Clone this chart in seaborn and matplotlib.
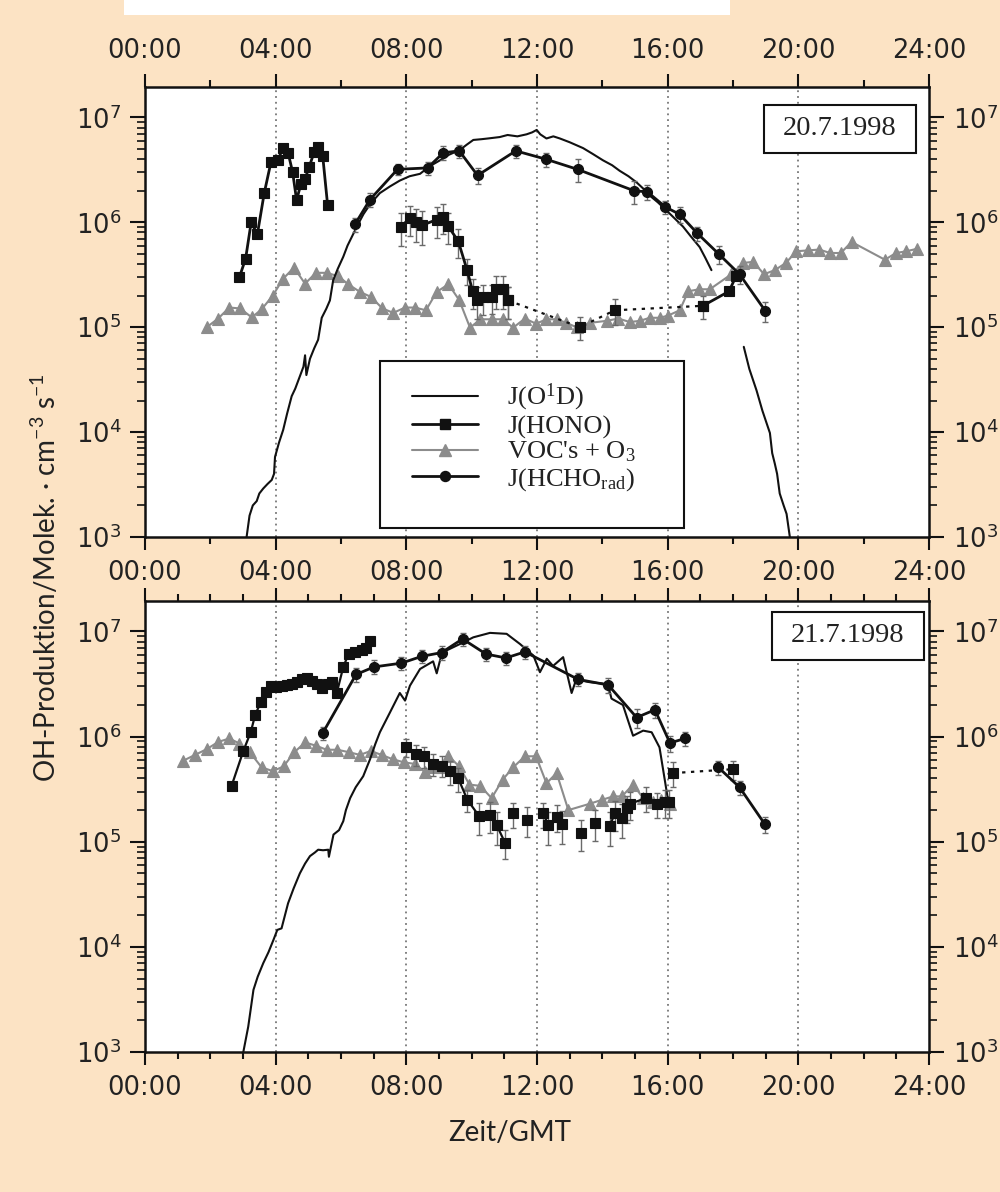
import numpy as np
import pandas as pd
import matplotlib
matplotlib.use("Agg")
import matplotlib.pyplot as plt
import seaborn as sns
from matplotlib.ticker import FixedLocator, LogLocator, NullFormatter, MultipleLocator, LogFormatterSciNotation
from matplotlib.patches import Rectangle
from matplotlib.lines import Line2D

# ---------------- data (hours GMT, OH production in molec cm^-3 s^-1) ----------------
hour_ticks = [0, 4, 8, 12, 16, 20, 24]
hour_labels = ["00:00", "04:00", "08:00", "12:00", "16:00", "20:00", "24:00"]
grid_hours = [4, 8, 12, 16, 20]
legend_labels = ["J(O$\\mathregular{^1}$D)", "J(HONO)", "VOC's + O$\\mathregular{_3}$", "J(HCHO$\\mathregular{_{rad}}$)"]
date_top = "20.7.1998"
date_bottom = "21.7.1998"

# --- 20.7.1998 ---
o1d_top_t_a = [3.11, 3.2, 3.3, 3.42, 3.5, 3.62, 3.75, 3.88, 3.95, 3.98, 4.1, 4.23, 4.35, 4.49, 4.6, 4.74,
               4.85, 4.90, 4.94, 5.05, 5.18, 5.30, 5.41, 5.55, 5.66, 5.76, 5.9, 6.07, 6.2, 6.38, 6.5, 6.69,
               6.9, 7.19, 7.5, 7.80, 8.1, 8.42, 8.7, 9.03, 9.3, 9.64, 9.85, 10.05, 10.3, 10.5, 10.86, 11.1,
               11.4, 11.68, 11.85, 11.99, 12.1, 12.29, 12.5, 12.70, 13.0, 13.41, 13.7, 14.02, 14.3, 14.53,
               14.8, 15.05, 15.25, 15.45, 15.7, 15.96, 16.2, 16.47, 16.7, 16.98, 17.15, 17.34]
o1d_top_v_a = [1.0e3, 1.6e3, 2.0e3, 2.2e3, 2.6e3, 2.9e3, 3.2e3, 3.5e3, 4.0e3, 5.8e3, 7.9e3, 1.05e4, 1.5e4,
               2.2e4, 2.6e4, 3.4e4, 4.2e4, 5.4e4, 3.5e4, 5.0e4, 6.3e4, 7.6e4, 1.23e5, 1.5e5, 1.8e5, 2.8e5,
               3.6e5, 4.7e5, 6.0e5, 7.8e5, 9.3e5, 1.2e6, 1.5e6, 1.9e6, 2.2e6, 2.5e6, 2.75e6, 2.9e6, 3.4e6,
               3.9e6, 4.4e6, 4.9e6, 5.5e6, 6.1e6, 6.2e6, 6.3e6, 6.5e6, 6.8e6, 6.6e6, 6.9e6, 7.2e6, 7.6e6,
               6.9e6, 6.3e6, 6.6e6, 6.3e6, 5.8e6, 5.1e6, 4.5e6, 3.9e6, 3.5e6, 3.1e6, 2.75e6, 2.4e6, 2.1e6,
               1.8e6, 1.55e6, 1.3e6, 1.1e6, 9.1e5, 7.4e5, 5.8e5, 4.6e5, 3.5e5]
o1d_top_t_b = [18.33, 18.5, 18.72, 18.9, 19.13, 19.2, 19.28, 19.35, 19.43, 19.55, 19.64, 19.74]
o1d_top_v_b = [6.5e4, 4.0e4, 2.5e4, 1.6e4, 9.8e3, 6.3e3, 5.0e3, 4.0e3, 2.6e3, 2.0e3, 1.66e3, 1.0e3]

hono_top_t_a = [2.89, 3.08, 3.25, 3.44, 3.65, 3.86, 4.08, 4.21, 4.38, 4.52, 4.64, 4.77, 4.90, 5.03, 5.18, 5.30, 5.44, 5.59]
hono_top_v_a = [3.0e5, 4.5e5, 1.0e6, 7.7e5, 1.9e6, 3.8e6, 3.9e6, 5.1e6, 4.6e6, 3.0e6, 1.63e6, 2.3e6, 2.6e6,
                3.4e6, 4.7e6, 5.2e6, 4.3e6, 1.46e6]
hono_top_t_b = [7.83, 8.11, 8.31, 8.49, 8.93, 9.13, 9.28, 9.59, 9.86, 10.03, 10.15, 10.35, 10.61, 10.76, 10.96, 11.12]
hono_top_v_b = [9.1e5, 1.09e6, 1.0e6, 9.4e5, 1.06e6, 1.13e6, 9.2e5, 6.6e5, 3.5e5, 2.2e5, 1.8e5, 1.92e5,
                1.95e5, 2.3e5, 2.3e5, 1.8e5]
hono_top_e_b = [3.2e5, 3.5e5, 3.5e5, 3.3e5, 3.5e5, 3.5e5, 3.0e5, 2.0e5, 1.0e5, 7e4, 6e4, 6e4, 6e4, 8e4, 8e4, 6e4]
hono_top_t_gap = [11.12, 13.31, 14.38, 17.08]
hono_top_v_gap = [1.8e5, 1.0e5, 1.45e5, 1.6e5]
hono_top_e_gap = [6e4, 2.5e4, 4e4, 4e4]
hono_top_t_c = [17.08, 17.88, 18.1]
hono_top_v_c = [1.6e5, 2.2e5, 3.1e5]

hcho_top_t = [6.43, 6.89, 7.73, 8.65, 9.13, 9.62, 10.18, 11.35, 12.27, 13.24, 14.97, 15.38, 15.93, 16.37,
              16.9, 17.56, 18.2, 18.99]
hcho_top_v = [9.6e5, 1.65e6, 3.2e6, 3.3e6, 4.6e6, 4.8e6, 2.8e6, 4.8e6, 4.0e6, 3.2e6, 2.0e6, 1.95e6, 1.4e6,
              1.19e6, 7.9e5, 5.0e5, 3.2e5, 1.43e5]
hcho_top_e = [1.5e5, 2.5e5, 4e5, 5e5, 7e5, 7e5, 5e5, 7e5, 6e5, 8e5, 5e5, 3e5, 2e5, 2e5, 1.2e5, 1e5, 6e4, 3e4]

voc_top_t = [1.89, 2.24, 2.58, 2.91, 3.27, 3.57, 3.91, 4.23, 4.56, 4.90, 5.23, 5.56, 5.92, 6.22, 6.58, 6.91,
             7.27, 7.60, 7.96, 8.26, 8.60, 8.93, 9.29, 9.62, 9.95, 10.27, 10.61, 10.95, 11.27, 11.63, 11.97,
             12.29, 12.60, 12.90, 13.21, 13.62, 14.13, 14.49, 14.84, 15.15, 15.45, 15.76, 16.01, 16.37, 16.63,
             16.96, 17.29, 17.95, 18.31, 18.62, 18.95, 19.28, 19.62, 19.94, 20.30, 20.64, 20.97, 21.30, 21.63,
             22.65, 22.99, 23.31, 23.64]
voc_top_v = [1.0e5, 1.21e5, 1.54e5, 1.51e5, 1.24e5, 1.48e5, 2.0e5, 2.9e5, 3.7e5, 2.6e5, 3.3e5, 3.3e5, 3.06e5,
             2.57e5, 2.17e5, 1.95e5, 1.51e5, 1.37e5, 1.54e5, 1.54e5, 1.45e5, 2.17e5, 2.57e5, 1.81e5, 9.9e4,
             1.19e5, 1.19e5, 1.19e5, 9.9e4, 1.21e5, 1.08e5, 1.19e5, 1.19e5, 1.1e5, 1.0e5, 1.1e5, 1.15e5,
             1.21e5, 1.12e5, 1.15e5, 1.23e5, 1.23e5, 1.29e5, 1.45e5, 2.2e5, 2.3e5, 2.3e5, 3.2e5, 4.1e5, 4.2e5,
             3.2e5, 3.5e5, 4.1e5, 5.3e5, 5.4e5, 5.5e5, 5.1e5, 5.1e5, 6.5e5, 4.4e5, 5.1e5, 5.3e5, 5.6e5]

# --- 21.7.1998 ---
o1d_bot_t = [3.01, 3.16, 3.32, 3.45, 3.62, 3.78, 3.93, 4.05, 4.18, 4.38, 4.55, 4.74, 4.9, 5.05, 5.2, 5.30,
             5.45, 5.61, 5.63, 5.77, 5.94, 6.07, 6.15, 6.28, 6.45, 6.68, 6.89, 7.05, 7.19, 7.50, 7.80, 7.96,
             8.11, 8.42, 8.82, 8.93, 9.05, 9.23, 9.64, 10.05, 10.56, 11.07, 11.48, 11.89, 12.09, 12.3, 12.49,
             12.8, 13.06, 13.2, 13.6, 14.0, 14.18, 14.28, 14.63, 14.94, 15.25, 15.51, 15.75, 15.91, 16.01]
o1d_bot_v = [1.0e3, 1.74e3, 3.9e3, 5.2e3, 7.0e3, 8.9e3, 1.16e4, 1.45e4, 1.5e4, 2.6e4, 3.6e4, 5.0e4, 6.2e4,
             7.3e4, 7.9e4, 8.4e4, 8.3e4, 8.4e4, 7.2e4, 1.17e5, 1.29e5, 1.57e5, 2.0e5, 2.6e5, 3.3e5, 4.2e5,
             6.1e5, 8.5e5, 1.1e6, 1.7e6, 2.6e6, 2.2e6, 3.05e6, 4.4e6, 5.2e6, 4.0e6, 5.6e6, 6.6e6, 7.6e6,
             8.8e6, 9.7e6, 9.5e6, 7.6e6, 5.9e6, 4.1e6, 5.5e6, 4.7e6, 5.7e6, 2.6e6, 3.5e6, 3.3e6, 3.2e6,
             3.05e6, 2.3e6, 2.0e6, 1.02e6, 1.14e6, 1.1e6, 7.9e5, 3.9e5, 2.5e5]

hono_bot_t_a = [2.65, 3.01, 3.24, 3.37, 3.55, 3.70, 3.85, 4.0, 4.18, 4.34, 4.49, 4.64, 4.80, 4.95, 5.10, 5.26,
                5.41, 5.61, 5.71, 5.87, 6.07, 6.23, 6.43, 6.63, 6.78, 6.89]
hono_bot_v_a = [3.4e5, 7.3e5, 1.11e6, 1.6e6, 2.15e6, 2.67e6, 3.0e6, 2.95e6, 3.0e6, 3.1e6, 3.2e6, 3.3e6, 3.5e6,
                3.6e6, 3.4e6, 3.2e6, 2.9e6, 3.2e6, 3.3e6, 2.6e6, 4.6e6, 6.1e6, 6.4e6, 6.7e6, 6.9e6, 8.2e6]
hono_bot_t_b = [8.0, 8.31, 8.54, 8.82, 9.08, 9.34, 9.59, 9.87, 10.23, 10.56, 10.77, 11.02]
hono_bot_v_b = [7.9e5, 6.8e5, 6.5e5, 5.5e5, 5.3e5, 4.7e5, 4.0e5, 2.5e5, 1.75e5, 1.8e5, 1.43e5, 9.8e4]
hono_bot_e_b = [1.5e5, 1.5e5, 1.5e5, 1.3e5, 1.2e5, 1.2e5, 1.0e5, 6e4, 6e4, 6e4, 5e4, 3e4]
hono_bot_t_c = [11.25]
hono_bot_v_c = [1.86e5]
hono_bot_t_d = [11.68]
hono_bot_v_d = [1.62e5]
hono_bot_t_e = [12.19, 12.35, 12.6, 12.75]
hono_bot_v_e = [1.86e5, 1.43e5, 1.73e5, 1.46e5]
hono_bot_t_f = [13.36]
hono_bot_v_f = [1.22e5]
hono_bot_t_g = [13.77]
hono_bot_v_g = [1.51e5]
hono_bot_t_h = [14.23, 14.38, 14.59, 14.74, 14.84, 15.35, 15.66, 15.91, 16.05]
hono_bot_v_h = [1.41e5, 1.86e5, 1.69e5, 2.1e5, 2.3e5, 2.6e5, 2.3e5, 2.4e5, 2.4e5]
hono_bot_t_err = [11.25, 11.68, 12.19, 12.35, 12.6, 12.75, 13.36, 13.77, 14.23, 14.38, 14.59, 14.74, 14.84,
                  15.35, 15.66, 15.91, 16.05, 16.17, 18.0]
hono_bot_v_err = [1.86e5, 1.62e5, 1.86e5, 1.43e5, 1.73e5, 1.46e5, 1.22e5, 1.51e5, 1.41e5, 1.86e5, 1.69e5,
                  2.1e5, 2.3e5, 2.6e5, 2.3e5, 2.4e5, 2.4e5, 4.5e5, 4.9e5]
hono_bot_e_err = [5e4, 5e4, 5e4, 5e4, 5e4, 5e4, 4e4, 5e4, 5e4, 6e4, 6e4, 6e4, 7e4, 7e4, 6e4, 7e4, 7e4, 1.2e5, 1.0e5]
hono_bot_t_gap = [16.17, 18.0]
hono_bot_v_gap = [4.5e5, 4.9e5]

hcho_bot_t_a = [5.44, 6.46, 7.01, 7.85, 8.47, 9.08, 9.72, 10.44, 11.05, 11.63, 13.26, 14.18, 15.05, 15.61, 16.07, 16.53]
hcho_bot_v_a = [1.08e6, 3.9e6, 4.6e6, 5.0e6, 5.8e6, 6.3e6, 8.5e6, 6.1e6, 5.6e6, 6.4e6, 3.5e6, 3.1e6, 1.52e6,
                1.8e6, 8.7e5, 9.6e5]
hcho_bot_e_a = [1.5e5, 6e5, 7e5, 7e5, 8e5, 9e5, 1.2e6, 9e5, 8e5, 9e5, 5e5, 5e5, 3e5, 3e5, 1.5e5, 1.5e5]
hcho_bot_t_b = [17.55, 18.2, 18.98]
hcho_bot_v_b = [5.1e5, 3.3e5, 1.46e5]
hcho_bot_e_b = [8e4, 5e4, 2.5e4]

voc_bot_t = [1.17, 1.53, 1.89, 2.24, 2.58, 2.89, 3.21, 3.57, 3.91, 4.24, 4.57, 4.90, 5.23, 5.56, 5.89, 6.25,
             6.58, 6.91, 7.24, 7.58, 7.92, 8.26, 8.57, 8.82, 9.05, 9.28, 9.62, 9.93, 10.26, 10.61, 10.95, 11.27,
             11.63, 11.97, 12.29, 12.60, 12.96, 13.62, 13.98, 14.33, 14.60, 14.94, 15.25, 15.56, 15.81, 16.07]
voc_bot_v = [5.9e5, 6.7e5, 7.6e5, 8.9e5, 9.6e5, 8.6e5, 7.1e5, 5.1e5, 4.7e5, 5.2e5, 7.1e5, 8.8e5, 8.2e5, 7.5e5,
             7.5e5, 7.1e5, 6.7e5, 7.3e5, 6.7e5, 6.1e5, 5.7e5, 5.5e5, 4.6e5, 5.1e5, 5.1e5, 6.6e5, 5.2e5, 3.5e5,
             3.4e5, 2.6e5, 3.9e5, 5.1e5, 6.5e5, 6.5e5, 3.6e5, 4.5e5, 2.0e5, 2.3e5, 2.5e5, 2.7e5, 2.7e5, 3.5e5,
             2.6e5, 2.4e5, 2.5e5, 2.3e5]

# ---------------- style ----------------
sns.set_style("ticks")
plt.rcParams["font.family"] = ["DejaVu Sans"]
plt.rcParams["mathtext.fontset"] = "dejavusans"

BG = "#FCE3C4"
BLACK = "#111111"
GRAY = "#8c8c8c"
ERR = "#6a6a6a"

fig = plt.figure(figsize=(10, 11.92), dpi=100, facecolor=BG)
ax1 = fig.add_axes([0.145, 1 - 537 / 1192, 0.784, 450 / 1192])
ax2 = fig.add_axes([0.145, 1 - 1052 / 1192, 0.784, 451 / 1192])


def segframe(segments):
    rows = []
    for i, (t, v) in enumerate(segments):
        rows.append(pd.DataFrame({"t": t, "v": v, "seg": i}))
    return pd.concat(rows, ignore_index=True)


def draw(ax, segments, color, marker=None, lw=2.0, ms=7, ls="-", z=3):
    df = segframe(segments)
    kw = dict(color=color, lw=lw, linestyle=ls, zorder=z)
    if marker is not None:
        kw.update(marker=marker, markersize=ms, markeredgecolor=color, markerfacecolor=color,
                  markeredgewidth=0.8)
    sns.lineplot(data=df, x="t", y="v", units="seg", estimator=None, sort=False,
                 ax=ax, legend=False, **kw)


def errs(ax, t, v, e):
    ax.errorbar(t, v, yerr=e, fmt="none", ecolor=ERR, elinewidth=1.0, capsize=2.5,
                capthick=1.0, zorder=3.5)


for ax in (ax1, ax2):
    ax.set_facecolor("white")
    ax.set_yscale("log")

# top panel
draw(ax1, [(voc_top_t, voc_top_v)], GRAY, "^", lw=1.5, ms=8, z=2)
draw(ax1, [(o1d_top_t_a, o1d_top_v_a), (o1d_top_t_b, o1d_top_v_b)], BLACK, None, lw=1.5, z=3)
errs(ax1, hono_top_t_b, hono_top_v_b, hono_top_e_b)
errs(ax1, hono_top_t_gap, hono_top_v_gap, hono_top_e_gap)
errs(ax1, hcho_top_t, hcho_top_v, hcho_top_e)
draw(ax1, [(hono_top_t_a, hono_top_v_a), (hono_top_t_b, hono_top_v_b), (hono_top_t_c, hono_top_v_c)],
     BLACK, "s", lw=2.0, ms=6.8, z=4)
draw(ax1, [(hono_top_t_gap, hono_top_v_gap)], BLACK, "s", lw=1.6, ms=6.8, ls=(0, (1.5, 2.5)), z=4)
draw(ax1, [(hcho_top_t, hcho_top_v)], BLACK, "o", lw=2.0, ms=7.2, z=4)

# bottom panel
draw(ax2, [(voc_bot_t, voc_bot_v)], GRAY, "^", lw=1.5, ms=8, z=2)
draw(ax2, [(o1d_bot_t, o1d_bot_v)], BLACK, None, lw=1.5, z=3)
errs(ax2, hono_bot_t_b, hono_bot_v_b, hono_bot_e_b)
errs(ax2, hono_bot_t_err, hono_bot_v_err, hono_bot_e_err)
errs(ax2, hcho_bot_t_a, hcho_bot_v_a, hcho_bot_e_a)
errs(ax2, hcho_bot_t_b, hcho_bot_v_b, hcho_bot_e_b)
draw(ax2, [(hono_bot_t_a, hono_bot_v_a), (hono_bot_t_b, hono_bot_v_b), (hono_bot_t_c, hono_bot_v_c),
           (hono_bot_t_d, hono_bot_v_d), (hono_bot_t_e, hono_bot_v_e), (hono_bot_t_f, hono_bot_v_f),
           (hono_bot_t_g, hono_bot_v_g), (hono_bot_t_h, hono_bot_v_h)], BLACK, "s", lw=1.6, ms=6.8, z=4)
draw(ax2, [(hono_bot_t_gap, hono_bot_v_gap)], BLACK, "s", lw=1.6, ms=6.8, ls=(0, (1.5, 2.5)), z=4)
draw(ax2, [(hcho_bot_t_a, hcho_bot_v_a), (hcho_bot_t_b, hcho_bot_v_b)], BLACK, "o", lw=2.0, ms=7.2, z=4)

for ax, minor_step, labeltop in ((ax1, 2, True), (ax2, 1, False)):
    ax.set_xlim(0, 24)
    ax.set_ylim(1e3, 1.95e7)
    for h in grid_hours:
        ax.axvline(h, color="#777777", lw=1.3, ls=(0, (1, 2.2)), zorder=1)
    ax.xaxis.set_major_locator(FixedLocator(hour_ticks))
    ax.set_xticklabels(hour_labels)
    ax.xaxis.set_minor_locator(MultipleLocator(minor_step))
    ax.yaxis.set_major_locator(FixedLocator([1e3, 1e4, 1e5, 1e6, 1e7]))
    ax.yaxis.set_major_formatter(LogFormatterSciNotation())
    ax.yaxis.set_minor_locator(LogLocator(base=10, subs=np.arange(2, 10)))
    ax.yaxis.set_minor_formatter(NullFormatter())
    ax.tick_params(axis="x", which="both", direction="out", top=True, bottom=True,
                   labeltop=labeltop, labelbottom=True, width=1.5, colors=BLACK)
    ax.tick_params(axis="x", which="major", length=9.5, pad=7, labelsize=18.5)
    ax.tick_params(axis="x", which="minor", length=5)
    ax.tick_params(axis="y", which="both", direction="out", left=True, right=True,
                   labelleft=True, labelright=True, width=1.5, colors=BLACK)
    ax.tick_params(axis="y", which="major", length=11, pad=6, labelsize=18.5)
    ax.tick_params(axis="y", which="minor", length=6, width=1.2)
    ax.set_xlabel("")
    ax.set_ylabel("")
    for s in ax.spines.values():
        s.set_visible(True)
        s.set_linewidth(1.8)
        s.set_color(BLACK)
    for lab in ax.get_xticklabels() + ax.get_yticklabels():
        lab.set_color("#222222")

# date boxes
ax1.add_patch(Rectangle((0.7895, 0.8533), 0.1939, 0.1067, transform=ax1.transAxes,
                        facecolor="white", edgecolor=BLACK, lw=1.5, zorder=6))
ax1.text(0.8865, 0.9067, date_top, transform=ax1.transAxes, ha="center", va="center",
         fontsize=20.5, family="Liberation Serif", color="#222222", zorder=7)
ax2.add_patch(Rectangle((0.7997, 0.8692), 0.1939, 0.1064, transform=ax2.transAxes,
                        facecolor="white", edgecolor=BLACK, lw=1.5, zorder=6))
ax2.text(0.8967, 0.9224, date_bottom, transform=ax2.transAxes, ha="center", va="center",
         fontsize=20.5, family="Liberation Serif", color="#222222", zorder=7)

# legend (top panel)
ax1.add_patch(Rectangle(((380 - 145) / 784, (537 - 528) / 450), 304 / 784, 167 / 450,
                        transform=ax1.transAxes, facecolor="white", edgecolor=BLACK, lw=1.5, zorder=6))
handles = [
    Line2D([], [], color=BLACK, lw=1.5),
    Line2D([], [], color=BLACK, lw=2.0, marker="s", ms=6.8),
    Line2D([], [], color=GRAY, lw=1.5, marker="^", ms=8, mec=GRAY),
    Line2D([], [], color=BLACK, lw=2.0, marker="o", ms=7.2),
]
leg = ax1.legend(handles, legend_labels, loc="upper left",
                 bbox_to_anchor=((412 - 145) / 784, (537 - 382) / 450),
                 frameon=False, prop={"family": "Liberation Serif", "size": 19},
                 handlelength=2.5, handletextpad=1.1, labelspacing=0.05,
                 borderpad=0, borderaxespad=0)
for txt in leg.get_texts():
    txt.set_color("#222222")
leg.set_zorder(8)

# axis titles
fig.text(0.045, 1 - 578 / 1192, "OH-Produktion/Molek. · cm$\\mathregular{^{-3}}$ s$\\mathregular{^{-1}}$",
         rotation=90, ha="center", va="center", fontsize=20, family="Lato", color="#222222")
fig.text(0.51, 1 - 1133 / 1192, "Zeit/GMT", ha="center", va="center", fontsize=20,
         family="Lato", color="#222222")

# white paper remnants at the edges
fig.patches.append(Rectangle((124 / 1000, 1 - 15 / 1192), 606 / 1000, 15 / 1192,
                             transform=fig.transFigure, facecolor="white", edgecolor="none", zorder=0))

fig.savefig("out.png", dpi=100, facecolor=BG)
